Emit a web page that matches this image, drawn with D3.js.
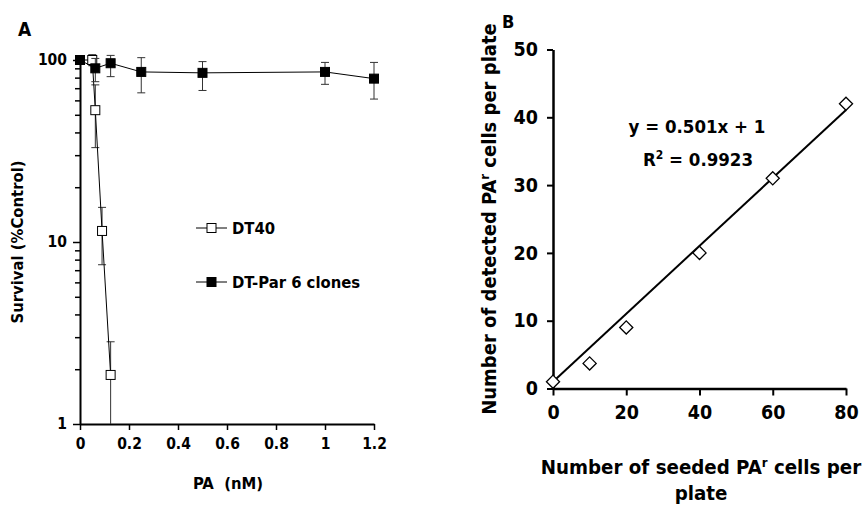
<!DOCTYPE html>
<html>
<head>
<meta charset="utf-8">
<script src="https://cdn.jsdelivr.net/npm/d3@7"></script>
<style>
  body { margin: 0; background: #fff; }
  svg text {
    font-family: "DejaVu Sans Condensed", "DejaVu Sans", sans-serif;
    font-stretch: condensed;
    font-weight: bold;
    fill: #000;
  }
</style>
</head>
<body>
<div class="chart"></div>
<script>
// ---- panel A data (survival vs PA dose) ----
var parDoses    = [0, 0.0625, 0.125, 0.25, 0.5, 1, 1.2];
var parSurvival = [100, 90, 96, 86, 85, 86, 79];
var parLow      = [100, 76, 81, 66, 68, 73.5, 61];
var parHigh     = [100, 102, 106, 103, 98, 97, 97];

var dt40Doses    = [0, 0.05, 0.0625, 0.09, 0.125];
var dt40Survival = [100, 100, 53, 11.5, 1.86];
var dt40Low      = [100, 93, 33, 7.5, 0.5];
var dt40High     = [100, 107, 73, 15.5, 2.83];

var doseTicks = [0, 0.2, 0.4, 0.6, 0.8, 1, 1.2];
var survivalTicks = [1, 10, 100];

// ---- panel B data (detected vs seeded) ----
var seeded   = [0, 10, 20, 40, 60, 80];
var detected = [1, 3.7, 9, 20, 31, 42];
var fitSlope = 0.501, fitIntercept = 1;
var seededTicks = [0, 20, 40, 60, 80];
var detectedTicks = [0, 10, 20, 30, 40, 50];

var svg = d3.select(".chart").append("svg")
  .attr("width", 863)
  .attr("height", 507);

// ================= Panel A =================
var xA = d3.scaleLinear().domain([0, 1.2]).range([80, 374]);
var yA = d3.scaleLog().domain([1, 100]).range([424, 60]);

svg.append("clipPath").attr("id", "clipA")
  .append("rect").attr("x", 70).attr("y", 50).attr("width", 320).attr("height", 374);

// minor log ticks
var minor = [];
[1, 10].forEach(function(base) {
  for (var k = 2; k <= 9; k++) minor.push(base * k);
});
svg.append("g")
  .attr("transform", "translate(80,0)")
  .call(d3.axisLeft(yA).tickValues(minor).tickSize(5).tickFormat(""))
  .call(g => g.select(".domain").remove())
  .call(g => g.selectAll("line").attr("stroke", "#000").attr("stroke-width", 1.5));

var axA_y = svg.append("g")
  .attr("transform", "translate(80,0)")
  .call(d3.axisLeft(yA).tickValues(survivalTicks).tickSize(7).tickSizeOuter(0).tickPadding(6)
    .tickFormat(d3.format("d")));
var axA_x = svg.append("g")
  .attr("transform", "translate(0,424)")
  .call(d3.axisBottom(xA).tickValues(doseTicks).tickSize(6).tickSizeOuter(0).tickPadding(8)
    .tickFormat(d => String(+d.toFixed(1))));
[axA_y, axA_x].forEach(function(ax) {
  ax.select(".domain").attr("stroke", "#000").attr("stroke-width", 2);
  ax.selectAll("line").attr("stroke", "#000").attr("stroke-width", 1.5);
  ax.selectAll("text").style("font-size", "15.5px");
});

var plotA = svg.append("g").attr("clip-path", "url(#clipA)");

function drawSeries(doses, vals, lows, highs, fill) {
  var pts = doses.map((d, i) => ({x: d, y: vals[i], lo: lows[i], hi: highs[i]}));
  var eb = plotA.append("g").attr("stroke", "#333").attr("stroke-width", 1);
  pts.forEach(function(p) {
    if (p.lo === p.hi) return;
    var cx = xA(p.x);
    eb.append("line").attr("x1", cx).attr("x2", cx).attr("y1", yA(p.lo)).attr("y2", yA(p.hi));
    eb.append("line").attr("x1", cx - 4).attr("x2", cx + 4).attr("y1", yA(p.lo)).attr("y2", yA(p.lo));
    eb.append("line").attr("x1", cx - 4).attr("x2", cx + 4).attr("y1", yA(p.hi)).attr("y2", yA(p.hi));
  });
  plotA.append("path")
    .datum(pts)
    .attr("fill", "none")
    .attr("stroke", "#000")
    .attr("stroke-width", 1)
    .attr("d", d3.line().x(d => xA(d.x)).y(d => yA(d.y)));
  plotA.selectAll(null)
    .data(pts)
    .enter()
    .append("rect")
    .attr("x", d => xA(d.x) - 4.5)
    .attr("y", d => yA(d.y) - 4.5)
    .attr("width", 9)
    .attr("height", 9)
    .attr("fill", fill)
    .attr("stroke", "#000")
    .attr("stroke-width", 1);
}
drawSeries(dt40Doses, dt40Survival, dt40Low, dt40High, "#fff");
drawSeries(parDoses, parSurvival, parLow, parHigh, "#000");

// legend
var legend = [{name: "DT40", fill: "#fff", y: 228}, {name: "DT-Par 6 clones", fill: "#000", y: 282}];
legend.forEach(function(l) {
  svg.append("line").attr("x1", 196).attr("x2", 227).attr("y1", l.y).attr("y2", l.y)
    .attr("stroke", "#000").attr("stroke-width", 1);
  svg.append("rect").attr("x", 207).attr("y", l.y - 4.5).attr("width", 9).attr("height", 9)
    .attr("fill", l.fill).attr("stroke", "#000");
  svg.append("text").attr("x", 232).attr("y", l.y).attr("dy", "0.36em")
    .style("font-size", "16.5px").text(l.name);
});

svg.append("text").attr("x", 18).attr("y", 36).style("font-size", "19px").text("A");
svg.append("text")
  .attr("transform", "translate(23,242) rotate(-90)")
  .attr("text-anchor", "middle")
  .style("font-size", "16.5px")
  .text("Survival (%Control)");
svg.append("text")
  .attr("x", 228).attr("y", 489)
  .attr("text-anchor", "middle")
  .style("font-size", "16.5px")
  .style("white-space", "pre")
  .text("PA  (nM)");

// ================= Panel B =================
var xB = d3.scaleLinear().domain([0, 80]).range([553, 846]);
var yB = d3.scaleLinear().domain([0, 50]).range([388.5, 49.5]);

var axB_y = svg.append("g")
  .attr("transform", "translate(553,0)")
  .call(d3.axisLeft(yB).tickValues(detectedTicks).tickSize(6).tickSizeOuter(0).tickPadding(9));
var axB_x = svg.append("g")
  .attr("transform", "translate(0,388.5)")
  .call(d3.axisBottom(xB).tickValues(seededTicks).tickSize(7).tickSizeOuter(0).tickPadding(10));
[axB_y, axB_x].forEach(function(ax) {
  ax.select(".domain").attr("stroke", "#000").attr("stroke-width", 2.5);
  ax.selectAll("line").attr("stroke", "#000").attr("stroke-width", 2);
  ax.selectAll("text").style("font-size", "19.5px");
});

// trend line from the shown equation
svg.append("line")
  .attr("x1", xB(0)).attr("y1", yB(fitIntercept))
  .attr("x2", xB(80)).attr("y2", yB(fitSlope * 80 + fitIntercept))
  .attr("stroke", "#000").attr("stroke-width", 2);

var symDiamond = d3.symbol().type(d3.symbolDiamond2).size(110);
svg.selectAll(null)
  .data(seeded.map((s, i) => [s, detected[i]]))
  .enter()
  .append("path")
  .attr("d", symDiamond)
  .attr("transform", d => "translate(" + xB(d[0]) + "," + yB(d[1]) + ")")
  .attr("fill", "#fff")
  .attr("stroke", "#000")
  .attr("stroke-width", 1.3);

svg.append("text").attr("x", 502).attr("y", 28).style("font-size", "18px").text("B");

var eq = svg.append("g").attr("text-anchor", "middle").style("font-size", "18.5px");
eq.append("text").attr("x", 697).attr("y", 133).text("y = 0.501x + 1");
var r2 = eq.append("text").attr("x", 698).attr("y", 166);
r2.append("tspan").text("R");
r2.append("tspan").attr("dy", -7).style("font-size", "12px").text("2");
r2.append("tspan").attr("dy", 7).text(" = 0.9923");

var ylab = svg.append("text")
  .attr("transform", "translate(496,219) rotate(-90)")
  .attr("text-anchor", "middle")
  .style("font-size", "20px");
ylab.append("tspan").text("Number of detected PA");
ylab.append("tspan").attr("dy", -7).style("font-size", "13px").text("r");
ylab.append("tspan").attr("dy", 7).text(" cells per plate");

var xlab = svg.append("text")
  .attr("x", 701).attr("y", 474)
  .attr("text-anchor", "middle")
  .style("font-size", "20.3px");
xlab.append("tspan").text("Number of seeded PA");
xlab.append("tspan").attr("dy", -7).style("font-size", "13px").text("r");
xlab.append("tspan").attr("dy", 7).text(" cells per");
svg.append("text")
  .attr("x", 701).attr("y", 500)
  .attr("text-anchor", "middle")
  .style("font-size", "20.3px")
  .text("plate");
</script>
</body>
</html>
